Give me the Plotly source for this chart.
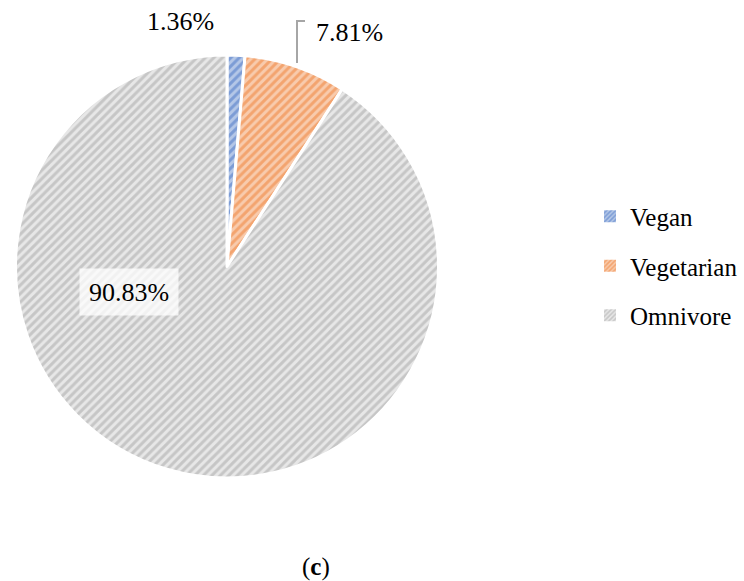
import plotly.graph_objects as go

# Data
labels = ['Vegan', 'Vegetarian', 'Omnivore']
values = [1.36, 7.81, 90.83]
fg_colors = ['#4472c4', '#ed7d31', '#a5a5a5']
bg_colors = ['#b4c7e7', '#f8cbad', '#e7e7e7']

W, H = 744, 581
FONT = 'Liberation Serif'


def px(x):
    return x / W


def py(y):
    return 1 - y / H


pct_text = ['{:.2f}%'.format(v) for v in values]

fig = go.Figure()

fig.add_trace(go.Pie(
    labels = labels,
    values = values,
    sort = False,
    direction = 'clockwise',
    rotation = 0,
    textinfo = 'none',
    hoverinfo = 'label+percent',
    showlegend = False,
    marker = dict(
        colors = bg_colors,
        line = dict(color = 'white', width = 3),
        pattern = dict(
            shape = '/',
            fgcolor = fg_colors,
            bgcolor = bg_colors,
            size = 6,
            solidity = 0.5,
            fillmode = 'overlay'
        )
    ),
    domain = dict(x = [px(14), px(440)], y = [py(478), py(55)])
))

# Legend entries (one per category, so the rows can be spaced like the original)
for i in range(len(labels)):
    fig.add_trace(go.Bar(
        x = [None], y = [None],
        name = labels[i],
        legendgroup = labels[i],
        showlegend = True,
        marker = dict(
            color = bg_colors[i],
            line = dict(width = 0),
            pattern = dict(shape = '/', fgcolor = fg_colors[i], bgcolor = bg_colors[i],
                           size = 4, solidity = 0.5, fillmode = 'overlay')
        )
    ))

# Data labels
label_pos = [(180, 22), (349, 32), (129, 292)]
for i in range(len(values)):
    extra = {}
    if i == 2:
        extra = dict(width = 96, height = 44, bgcolor = 'rgba(255, 255, 255, 0.75)')
    fig.add_annotation(x = px(label_pos[i][0]), y = py(label_pos[i][1]),
                       xref = 'paper', yref = 'paper',
                       xanchor = 'center', yanchor = 'middle',
                       text = pct_text[i], showarrow = False,
                       font = dict(family = FONT, size = 26, color = 'black'),
                       **extra)

# Leader line for the vegetarian label
fig.add_shape(type = 'path', xref = 'paper', yref = 'paper',
              path = 'M {} {} L {} {} L {} {}'.format(px(297), py(63), px(297), py(21), px(305), py(21)),
              line = dict(color = '#a6a6a6', width = 2))

# Panel letter
fig.add_annotation(x = px(316), y = py(567), xref = 'paper', yref = 'paper',
                   xanchor = 'center', yanchor = 'middle',
                   text = '(<b>c</b>)', showarrow = False,
                   font = dict(family = FONT, size = 25, color = 'black'))

fig.update_layout(
    width = W,
    height = H,
    showlegend = True,
    xaxis = dict(visible = False),
    yaxis = dict(visible = False),
    legend = dict(
        x = px(590),
        y = py(266),
        xanchor = 'left',
        yanchor = 'middle',
        font = dict(family = FONT, size = 25, color = 'black'),
        tracegroupgap = 14,
        traceorder = 'grouped',
        bgcolor = 'rgba(0, 0, 0, 0)'
    ),
    font = dict(family = FONT, size = 25, color = 'black'),
    margin = dict(l = 0, r = 0, t = 0, b = 0),
    plot_bgcolor = 'white',
    paper_bgcolor = 'white'
)

# Remove the default page margin so the figure fills the window exactly
fig.write_html('out.html', config = dict(displayModeBar = False),
               post_script = "document.body.style.margin = '0px';")
